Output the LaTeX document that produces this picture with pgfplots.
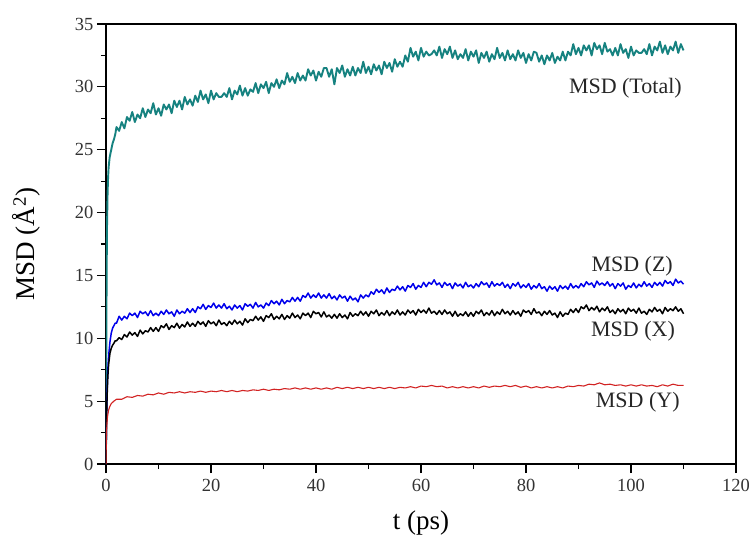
\documentclass[border=0pt]{standalone}
\usepackage{fontspec}
\setmainfont{Liberation Serif}
\usepackage{pgfplots}
\pgfplotsset{compat=1.18}

\definecolor{msdtotal}{RGB}{22,130,128}
\definecolor{msdz}{RGB}{0,0,235}
\definecolor{msdy}{RGB}{210,35,35}

\begin{document}
\begin{tikzpicture}
\begin{axis}[
  name=ax,
  scale only axis,
  width=630bp, height=440bp,
  xmin=0, xmax=120, ymin=0, ymax=35,
  xtick={0,20,...,120}, ytick={0,5,...,35},
  minor x tick num=1, minor y tick num=1,
  xtick pos=bottom, ytick pos=left,
  tick align=outside,
  major tick length=9bp, minor tick length=5bp,
  every tick/.style={black, line width=1.1bp},
  axis line style={line width=1.2bp},
  tick label style={font=\fontsize{18.5bp}{22bp}\selectfont, text=black!80},
  /pgf/number format/assume math mode=true,
  xticklabel style={yshift=-3bp},
  xlabel={t (ps)},
  ylabel={MSD (Å\textsuperscript{2})},
  label style={font=\fontsize{27bp}{32bp}\selectfont},
  xlabel style={at={(axis description cs:0.5,-0.134)}, anchor=center},
  ylabel style={at={(axis description cs:-0.126,0.5)}, anchor=center},
  no markers,
  clip=true,
  line join=round,
]
% MSD (Total)
\addplot[msdtotal, line width=1.9bp] coordinates {
(0,0)(0.05,8)(0.1,13)(0.15,16.5)(0.2,19)(0.3,21.5)(0.4,22.8)(0.5,23.6)(0.7,24.4)(1,25.0)(1.25,25.5)(1.5,25.8)(1.75,26.2)
(2,26.8)(2.5,26.5)(3,27.2)(3.5,26.7)(4,27.6)(4.5,27.3)(5,28.0)(5.5,27.2)(6,27.8)(6.5,27.5)
(7,28.3)(7.5,27.6)(8,28.2)(8.5,27.9)(9,28.7)(9.5,27.8)(10,28.3)(10.5,27.7)(11,28.6)(11.5,28.2)
(12,28.6)(12.5,27.9)(13,28.9)(13.5,28.4)(14,28.9)(14.5,28.2)(15,29.2)(15.5,28.6)(16,29.0)(16.5,28.5)
(17,29.3)(17.5,28.8)(18,29.7)(18.5,29.0)(19,29.4)(19.5,28.7)(20,29.7)(20.5,29.0)(21,29.5)(21.5,29.2)
(22,29.2)(22.5,29.5)(23,29.2)(23.5,29.9)(24,29.0)(24.5,29.7)(25,29.4)(25.5,30.1)(26,29.3)(26.5,29.9)
(27,29.3)(27.5,29.8)(28,29.6)(28.5,30.3)(29,29.5)(29.5,30.2)(30,29.9)(30.5,30.4)(31,29.5)(31.5,30.3)
(32,30.0)(32.5,30.6)(33,29.9)(33.5,30.5)(34,30.2)(34.5,31.1)(35,30.4)(35.5,30.8)(36,30.3)(36.5,31.1)
(37,30.5)(37.5,30.9)(38,30.5)(38.5,31.4)(39,30.9)(39.5,31.3)(40,30.5)(40.5,31.2)(41,30.8)(41.5,31.5)
(42,31.5)(42.5,30.8)(43,31.4)(43.5,30.2)(44,31.5)(44.5,31.1)(45,31.7)(45.5,30.8)(46,31.4)(46.5,30.9)
(47,31.6)(47.5,30.9)(48,31.5)(48.5,31.1)(49,32.0)(49.5,31.1)(50,31.6)(50.5,31.0)(51,31.8)(51.5,31.3)
(52,31.7)(52.5,31.0)(53,32.0)(53.5,31.5)(54,31.9)(54.5,31.2)(55,32.2)(55.5,31.6)(56,32.0)(56.5,31.6)
(57,32.5)(57.5,32.0)(58,33.1)(58.5,32.4)(59,32.8)(59.5,32.1)(60,33.1)(60.5,32.4)(61,32.8)(61.5,32.5)
(62,32.6)(62.5,32.9)(63,32.5)(63.5,33.2)(64,32.3)(64.5,33.0)(65,32.6)(65.5,33.2)(66,32.3)(66.5,32.9)
(67,32.2)(67.5,32.6)(68,32.3)(68.5,33.0)(69,32.1)(69.5,32.8)(70,32.4)(70.5,32.9)(71,31.9)(71.5,32.7)
(72,32.3)(72.5,32.8)(73,32.0)(73.5,32.6)(74,32.2)(74.5,33.1)(75,32.3)(75.5,32.7)(76,32.1)(76.5,32.9)
(77,32.2)(77.5,32.6)(78,32.1)(78.5,32.9)(79,32.3)(79.5,32.7)(80,31.9)(80.5,32.6)(81,32.1)(81.5,32.8)
(82,32.7)(82.5,32.0)(83,32.5)(83.5,31.8)(84,32.5)(84.5,32.1)(85,32.7)(85.5,31.9)(86,32.4)(86.5,32.1)
(87,32.8)(87.5,32.1)(88,32.8)(88.5,32.5)(89,33.4)(89.5,32.6)(90,33.1)(90.5,32.5)(91,33.3)(91.5,32.9)
(92,33.3)(92.5,32.5)(93,33.5)(93.5,33.0)(94,33.3)(94.5,32.6)(95,33.5)(95.5,32.8)(96,33.0)(96.5,32.5)
(97,33.1)(97.5,32.5)(98,33.4)(98.5,32.7)(99,33.0)(99.5,32.3)(100,33.2)(100.5,32.5)(101,32.9)(101.5,32.7)
(102,32.7)(102.5,33.0)(103,32.6)(103.5,33.4)(104,32.5)(104.5,33.2)(105,32.9)(105.5,33.6)(106,32.7)(106.5,33.3)
(107,32.6)(107.5,33.2)(108,32.9)(108.5,33.6)(109,32.7)(109.5,33.4)(110,32.9)
};
% MSD (Z)
\addplot[msdz, line width=1.5bp] coordinates {
(0,0)(0.05,2)(0.1,3.5)(0.2,5.5)(0.3,7.0)(0.4,7.9)(0.5,8.6)(0.75,9.7)(1,10.4)(1.25,10.8)(1.5,11.0)(1.75,11.2)
(2,11.2)(2.5,11.75)(3,11.45)(3.5,11.75)(4,11.55)(4.5,12.0)(5,11.8)(5.5,12.0)(6,11.65)(6.5,12.15)
(7,11.95)(7.5,12.1)(8,11.8)(8.5,12.2)(9,11.8)(9.5,12.0)(10,11.8)(10.5,12.15)(11,11.9)(11.5,12.25)
(12,11.95)(12.5,12.1)(13,11.75)(13.5,12.25)(14,11.95)(14.5,12.15)(15,12.0)(15.5,12.35)(16,12.05)(16.5,12.35)
(17,12.05)(17.5,12.5)(18,12.35)(18.5,12.7)(19,12.3)(19.5,12.6)(20,12.45)(20.5,12.8)(21,12.4)(21.5,12.65)
(22,12.4)(22.5,12.75)(23,12.35)(23.5,12.55)(24,12.25)(24.5,12.65)(25,12.4)(25.5,12.6)(26,12.25)(26.5,12.75)
(27,12.55)(27.5,12.7)(28,12.4)(28.5,12.85)(29,12.5)(29.5,12.65)(30,12.4)(30.5,12.8)(31,12.6)(31.5,13.0)
(32,12.75)(32.5,12.95)(33,12.65)(33.5,13.1)(34,12.75)(34.5,13.0)(35,12.9)(35.5,13.25)(36,12.95)(36.5,13.25)
(37,12.95)(37.5,13.4)(38,13.25)(38.5,13.6)(39,13.2)(39.5,13.45)(40,13.25)(40.5,13.6)(41,13.2)(41.5,13.45)
(42,13.2)(42.5,13.55)(43,13.15)(43.5,13.35)(44,13.05)(44.5,13.45)(45,13.2)(45.5,13.35)(46,12.95)(46.5,13.35)
(47,13.05)(47.5,13.2)(48,12.9)(48.5,13.45)(49,13.2)(49.5,13.45)(50,13.3)(50.5,13.7)(51,13.5)(51.5,13.9)
(52,13.65)(52.5,13.85)(53,13.55)(53.5,14.0)(54,13.65)(54.5,13.9)(55,13.8)(55.5,14.15)(56,13.85)(56.5,14.1)
(57,13.75)(57.5,14.2)(58,14.05)(58.5,14.35)(59,13.9)(59.5,14.2)(60,14.05)(60.5,14.45)(61,14.1)(61.5,14.45)
(62,14.3)(62.5,14.65)(63,14.25)(63.5,14.4)(64,14.05)(64.5,14.45)(65,14.2)(65.5,14.35)(66,13.95)(66.5,14.4)
(67,14.15)(67.5,14.3)(68,14.0)(68.5,14.45)(69,14.1)(69.5,14.25)(70,14.0)(70.5,14.35)(71,14.1)(71.5,14.5)
(72,14.25)(72.5,14.4)(73,14.05)(73.5,14.5)(74,14.15)(74.5,14.35)(75,14.2)(75.5,14.45)(76,14.05)(76.5,14.3)
(77,13.95)(77.5,14.35)(78,14.15)(78.5,14.45)(79,14.0)(79.5,14.25)(80,14.05)(80.5,14.35)(81,13.9)(81.5,14.2)
(82,14.0)(82.5,14.35)(83,13.95)(83.5,14.1)(84,13.75)(84.5,14.15)(85,13.9)(85.5,14.1)(86,13.75)(86.5,14.2)
(87,13.95)(87.5,14.15)(88,13.9)(88.5,14.35)(89,14.0)(89.5,14.2)(90,14.0)(90.5,14.35)(91,14.1)(91.5,14.5)
(92,14.25)(92.5,14.4)(93,14.05)(93.5,14.55)(94,14.25)(94.5,14.4)(95,14.2)(95.5,14.5)(96,14.15)(96.5,14.35)
(97,13.95)(97.5,14.35)(98,14.15)(98.5,14.4)(99,13.9)(99.5,14.2)(100,14.05)(100.5,14.4)(101,14.0)(101.5,14.3)
(102,14.1)(102.5,14.5)(103,14.15)(103.5,14.35)(104,14.05)(104.5,14.45)(105,14.2)(105.5,14.45)(106,14.15)(106.5,14.6)
(107,14.35)(107.5,14.5)(108,14.2)(108.5,14.7)(109,14.4)(109.5,14.55)(110,14.3)
};
% MSD (X)
\addplot[black, line width=1.5bp] coordinates {
(0,0)(0.05,2)(0.1,3.5)(0.2,5.2)(0.3,6.5)(0.4,7.3)(0.5,7.9)(0.75,8.8)(1,9.2)(1.25,9.45)(1.5,9.6)(1.75,9.8)
(2,9.8)(2.5,10.05)(3,9.9)(3.5,10.3)(4,10.1)(4.5,10.5)(5,10.25)(5.5,10.45)(6,10.15)(6.5,10.65)
(7,10.35)(7.5,10.6)(8,10.5)(8.5,10.85)(9,10.55)(9.5,10.85)(10,10.55)(10.5,11.0)(11,10.85)(11.5,11.15)
(12,10.7)(12.5,11.0)(13,10.85)(13.5,11.2)(14,10.8)(14.5,11.1)(15,10.9)(15.5,11.3)(16,10.95)(16.5,11.2)
(17,10.95)(17.5,11.35)(18,11.1)(18.5,11.3)(19,10.95)(19.5,11.4)(20,11.15)(20.5,11.3)(21,11.0)(21.5,11.45)
(22,11.1)(22.5,11.25)(23,11.0)(23.5,11.35)(24,11.1)(24.5,11.45)(25,11.15)(25.5,11.35)(26,11.05)(26.5,11.55)
(27,11.25)(27.5,11.5)(28,11.4)(28.5,11.75)(29,11.45)(29.5,11.7)(30,11.35)(30.5,11.8)(31,11.65)(31.5,11.95)
(32,11.5)(32.5,11.75)(33,11.55)(33.5,11.9)(34,11.5)(34.5,11.8)(35,11.6)(35.5,12.0)(36,11.65)(36.5,11.85)
(37,11.55)(37.5,12.0)(38,11.8)(38.5,12.0)(39,11.65)(39.5,12.15)(40,11.95)(40.5,12.05)(41,11.7)(41.5,12.1)
(42,11.7)(42.5,11.85)(43,11.6)(43.5,11.9)(44,11.6)(44.5,11.95)(45,11.65)(45.5,11.85)(46,11.55)(46.5,12.05)
(47,11.75)(47.5,11.95)(48,11.8)(48.5,12.15)(49,11.85)(49.5,12.1)(50,11.75)(50.5,12.15)(51,11.95)(51.5,12.25)
(52,11.8)(52.5,12.05)(53,11.85)(53.5,12.2)(54,11.8)(54.5,12.1)(55,11.9)(55.5,12.25)(56,11.85)(56.5,12.1)
(57,11.85)(57.5,12.25)(58,12.0)(58.5,12.2)(59,11.85)(59.5,12.3)(60,12.05)(60.5,12.25)(61,12.0)(61.5,12.4)
(62,12.0)(62.5,12.15)(63,11.9)(63.5,12.2)(64,11.9)(64.5,12.25)(65,11.95)(65.5,12.1)(66,11.75)(66.5,12.15)
(67,11.75)(67.5,11.95)(68,11.8)(68.5,12.1)(69,11.75)(69.5,12.05)(70,11.75)(70.5,12.15)(71,11.95)(71.5,12.25)
(72,11.8)(72.5,12.05)(73,11.85)(73.5,12.2)(74,11.8)(74.5,12.1)(75,11.9)(75.5,12.3)(76,11.95)(76.5,12.15)
(77,11.85)(77.5,12.2)(78,11.9)(78.5,12.1)(79,11.75)(79.5,12.25)(80,12.05)(80.5,12.2)(81,11.9)(81.5,12.35)
(82,12.0)(82.5,12.1)(83,11.8)(83.5,12.15)(84,11.9)(84.5,12.2)(85,11.85)(85.5,12.0)(86,11.65)(86.5,12.1)
(87,11.75)(87.5,12.0)(88,11.9)(88.5,12.3)(89,12.05)(89.5,12.35)(90,12.05)(90.5,12.5)(91,12.35)(91.5,12.65)
(92,12.2)(92.5,12.45)(93,12.25)(93.5,12.55)(94,12.1)(94.5,12.4)(95,12.2)(95.5,12.5)(96,12.05)(96.5,12.25)
(97,11.95)(97.5,12.35)(98,12.1)(98.5,12.3)(99,11.95)(99.5,12.4)(100,12.15)(100.5,12.3)(101,12.0)(101.5,12.4)
(102,12.0)(102.5,12.15)(103,11.9)(103.5,12.3)(104,12.1)(104.5,12.45)(105,12.15)(105.5,12.3)(106,11.95)(106.5,12.45)
(107,12.15)(107.5,12.35)(108,12.2)(108.5,12.5)(109,12.15)(109.5,12.35)(110,11.95)
};
% MSD (Y)
\addplot[msdy, line width=1.1bp] coordinates {
(0,0)(0.05,1.5)(0.1,2.5)(0.2,3.3)(0.3,3.8)(0.5,4.3)(0.75,4.6)(1,4.8)(1.5,5.0)
(2,5.15)(3,5.15)(4,5.35)(5,5.3)(6,5.45)(7,5.4)(8,5.55)(9,5.5)(10,5.65)(11,5.55)
(12,5.7)(13,5.65)(14,5.75)(15,5.65)(16,5.75)(17,5.7)(18,5.8)(19,5.7)(20,5.8)(21,5.75)
(22,5.85)(23,5.75)(24,5.85)(25,5.75)(26,5.85)(27,5.8)(28,5.9)(29,5.85)(30,5.95)(31,5.85)
(32,5.95)(33,5.9)(34,6.0)(35,5.95)(36,6.05)(37,5.95)(38,6.05)(39,5.95)(40,6.05)(41,5.95)
(42,6.05)(43,5.95)(44,6.1)(45,6.0)(46,6.1)(47,6.0)(48,6.1)(49,6.0)(50,6.1)(51,6.0)
(52,6.1)(53,6.0)(54,6.1)(55,6.0)(56,6.1)(57,6.05)(58,6.15)(59,6.05)(60,6.2)(61,6.15)
(62,6.25)(63,6.15)(64,6.2)(65,6.05)(66,6.15)(67,6.05)(68,6.15)(69,6.05)(70,6.15)(71,6.05)
(72,6.2)(73,6.1)(74,6.2)(75,6.15)(76,6.25)(77,6.15)(78,6.25)(79,6.1)(80,6.2)(81,6.05)
(82,6.15)(83,6.05)(84,6.15)(85,6.05)(86,6.15)(87,6.05)(88,6.2)(89,6.15)(90,6.25)(91,6.2)
(92,6.35)(93,6.3)(94,6.45)(95,6.3)(96,6.35)(97,6.25)(98,6.3)(99,6.2)(100,6.3)(101,6.2)
(102,6.3)(103,6.2)(104,6.25)(105,6.15)(106,6.3)(107,6.2)(108,6.35)(109,6.25)(110,6.25)
};
% series names beside the curves
\begin{scope}[every node/.style={font=\fontsize{22bp}{26bp}\selectfont, inner sep=0pt, anchor=east, text=black!85}]
\node at (axis cs:109.7,29.9) {MSD (Total)};
\node at (axis cs:108.0,15.7) {MSD (Z)};
\node at (axis cs:108.4,10.6) {MSD (X)};
\node at (axis cs:109.3,4.9) {MSD (Y)};
\end{scope}
\end{axis}
\pgfresetboundingbox
\path ([xshift=-106bp,yshift=-72bp]ax.south west) rectangle ([xshift=13bp,yshift=24bp]ax.north east);
\end{tikzpicture}
\end{document}
